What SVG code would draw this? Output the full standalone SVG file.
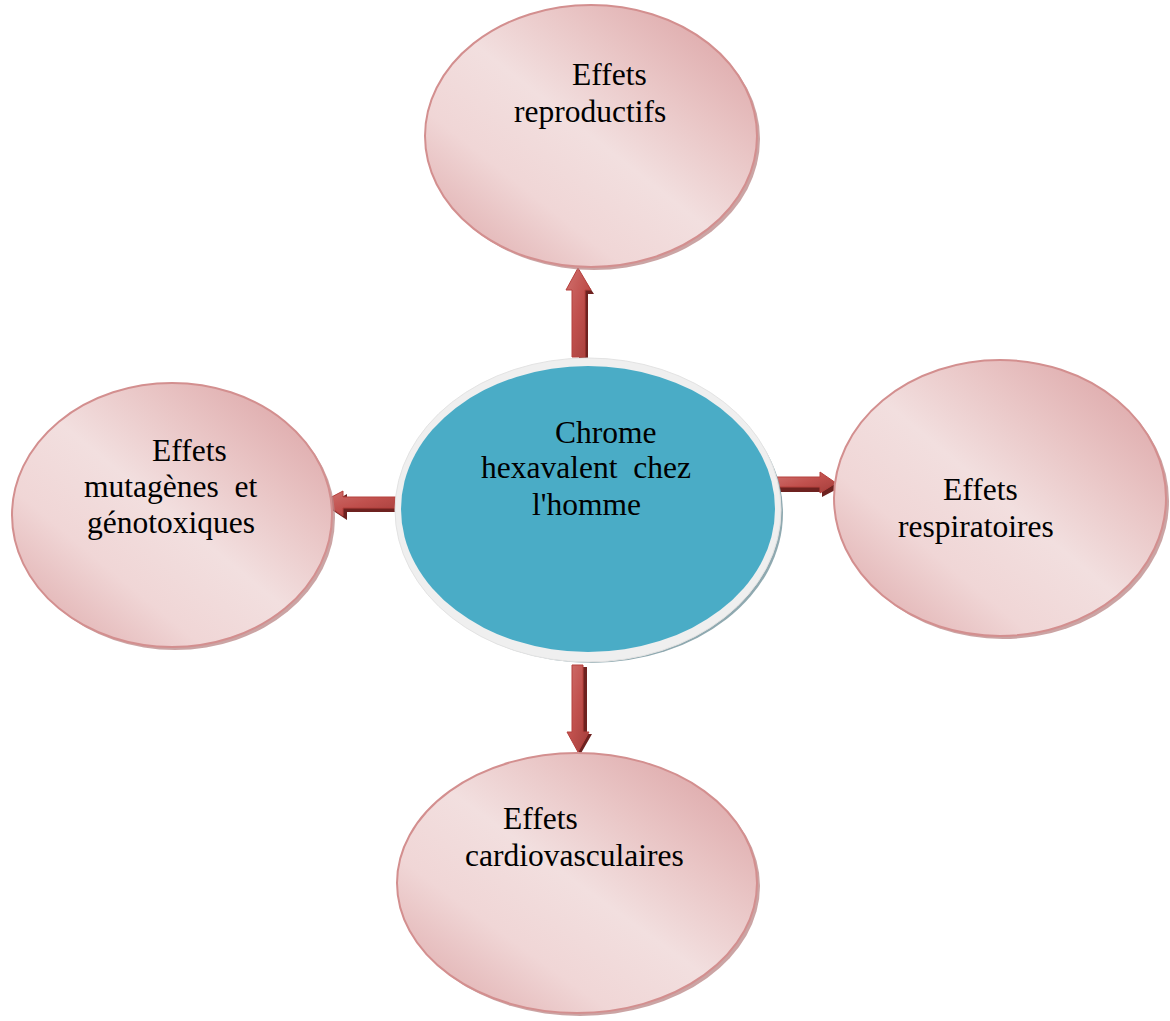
<svg xmlns="http://www.w3.org/2000/svg" width="1170" height="1021" viewBox="0 0 1170 1021">
<style>
text{font-family:"Liberation Serif","Times New Roman",serif;font-size:31.5px;fill:#000;white-space:pre}
.pink{fill:url(#pg);stroke:#d38f8f;stroke-width:2}
.psh{fill:#b98585;opacity:0.75}
.arr{fill:url(#ag);stroke:#b5403d;stroke-width:1}
.ash{fill:#6e2220}
</style>
<defs>
<linearGradient id="pg" x1="0" y1="1" x2="1" y2="0">
<stop offset="0" stop-color="#dba2a3"/>
<stop offset="0.3" stop-color="#f0d6d6"/>
<stop offset="0.5" stop-color="#f2dfdf"/>
<stop offset="0.7" stop-color="#e9c5c5"/>
<stop offset="1" stop-color="#d99d9f"/>
</linearGradient>
<linearGradient id="ag" x1="0" y1="0" x2="1" y2="1">
<stop offset="0" stop-color="#d0706d"/>
<stop offset="0.5" stop-color="#c0504d"/>
<stop offset="1" stop-color="#a23e3b"/>
</linearGradient>
</defs>
<g id="connectors">
<g id="arrow-up">
<polygon class="ash" points="578,270 594,294 588,294 588,358 579,358 579,294 572,294"/>
<polygon class="arr" points="578,268 591,290 585,290 585,357 572,357 572,290 566,290"/>
</g>
<g id="arrow-left">
<polygon class="ash" points="326,506 347,520 347,512 402,512 402,500 347,500 347,494"/>
<polygon class="arr" points="322,502 343,491 343,497 400,497 400,508 343,508 343,516"/>
</g>
<g id="arrow-right">
<polygon class="ash" points="780,481 822,481 822,477 839,488 822,497 822,492 780,492"/>
<polygon class="arr" points="777,477 820,477 820,472 836,483 820,493 820,487 777,487"/>
</g>
<g id="arrow-down">
<polygon class="ash" points="576,667 587,667 587,734 592,734 580,755 570,734 576,734"/>
<polygon class="arr" points="572,665 583,665 583,732 589,732 578,752 567,732 572,732"/>
</g>
</g>
<g id="node-center">
<ellipse cx="591" cy="513" rx="192" ry="150" fill="#8fa9b0"/>
<ellipse cx="588" cy="510" rx="193" ry="152" fill="#efefef" stroke="#e3e3e3" stroke-width="1"/>
<ellipse cx="588" cy="509" rx="187" ry="143" fill="#4aacc6"/>
<text x="555" y="443">Chrome</text>
<text x="481" y="478" xml:space="preserve">hexavalent  chez</text>
<text x="532" y="515">l'homme</text>
</g>
<g id="node-top">
<ellipse class="psh" cx="594" cy="139" rx="166" ry="131"/>
<ellipse class="pink" cx="591" cy="136" rx="166" ry="131"/>
<text x="572" y="85">Effets</text>
<text x="514" y="122">reproductifs</text>
</g>
<g id="node-left">
<ellipse class="psh" cx="175" cy="518" rx="160" ry="132"/>
<ellipse class="pink" cx="172" cy="515" rx="160" ry="132"/>
<text x="152" y="461">Effets</text>
<text x="84" y="497" xml:space="preserve">mutagènes  et</text>
<text x="87" y="533">génotoxiques</text>
</g>
<g id="node-right">
<ellipse class="psh" cx="1003" cy="501" rx="166" ry="138"/>
<ellipse class="pink" cx="1000" cy="498" rx="166" ry="138"/>
<text x="943" y="500">Effets</text>
<text x="898" y="537">respiratoires</text>
</g>
<g id="node-bottom">
<ellipse class="psh" cx="580" cy="886" rx="180" ry="130"/>
<ellipse class="pink" cx="577" cy="883" rx="180" ry="130"/>
<text x="503" y="829">Effets</text>
<text x="465" y="866">cardiovasculaires</text>
</g>
</svg>
